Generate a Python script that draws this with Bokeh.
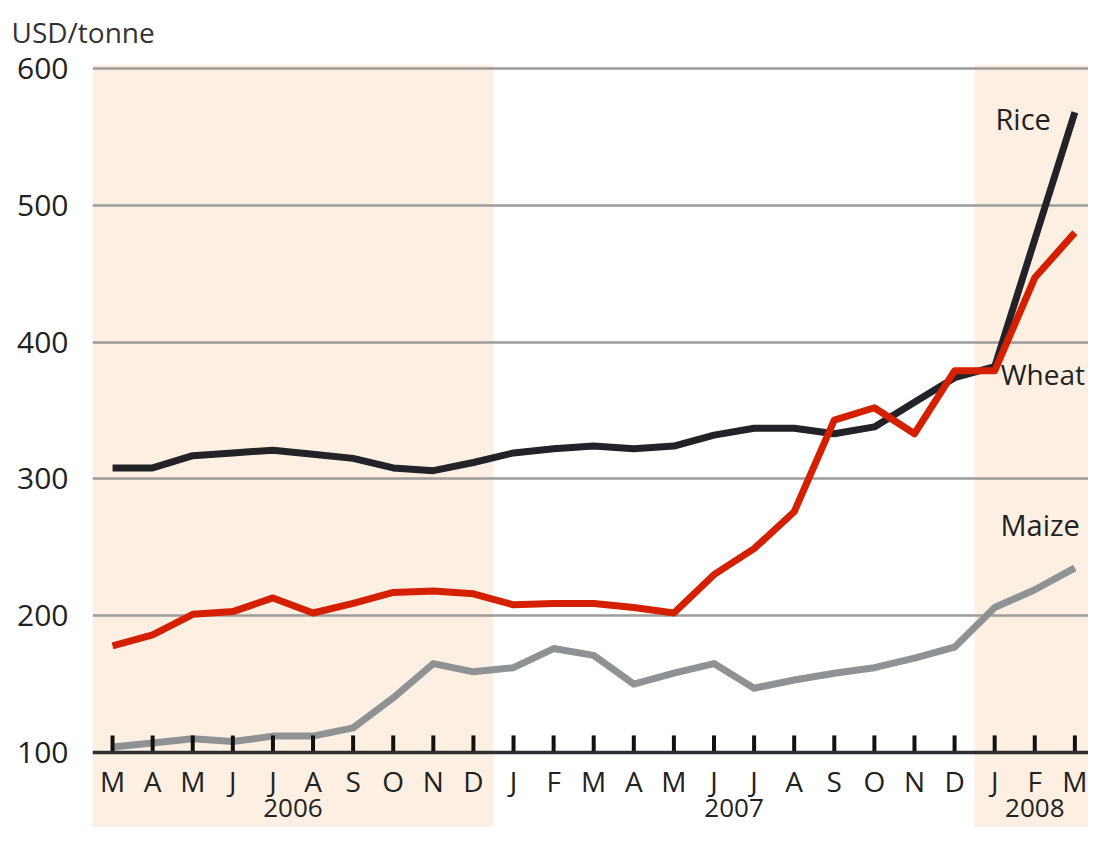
from bokeh.plotting import figure
from bokeh.models import FixedTicker, BoxAnnotation, Span
from bokeh.core.properties import value
from bokeh.embed import file_html
from bokeh.resources import INLINE

# ---- data ----
months = ["M", "A", "M", "J", "J", "A", "S", "O", "N", "D",
          "J", "F", "M", "A", "M", "J", "J", "A", "S", "O", "N", "D",
          "J", "F", "M"]
years = [2006] * 10 + [2007] * 12 + [2008] * 3
rice = [308, 308, 317, 319, 321, 318, 315, 308, 306, 312,
        319, 322, 324, 322, 324, 332, 337, 337, 333, 338, 356, 374,
        382, 475, 568]
wheat = [178, 186, 201, 203, 213, 202, 209, 217, 218, 216,
         208, 209, 209, 206, 202, 230, 249, 276, 343, 352, 333, 379,
         379, 447, 480]
maize = [104, 107, 110, 108, 112, 112, 118, 140, 165, 159,
         162, 176, 171, 150, 158, 165, 147, 153, 158, 162, 169, 177,
         206, 219, 235]
y_ticks = [100, 200, 300, 400, 500, 600]
shaded_years = [2006, 2008]
unit_label = "USD/tonne"

# ---- styles ----
FONT = "Open Sans"
SHADE = "#FDF0E3"
RICE_C = "#232228"
WHEAT_C = "#D52000"
MAIZE_C = "#8F9295"
GRID_C = "#9C9C9C"
TXT_C = "#222222"
FS = "30px"

idx = list(range(len(months)))
base = y_ticks[0]

W, H = 1088, 827
p = figure(width=W, height=H,
           x_range=(-0.5, 24.34), y_range=(45.2, 602.9),
           output_backend="svg", toolbar_location=None,
           x_axis_location=None,
           min_border_left=92, min_border_right=0,
           min_border_top=64, min_border_bottom=0,
           outline_line_color=None)

# unit label as title, top-left
p.title.text = unit_label
p.title.align = "left"
p.title.vertical_align = "top"
p.title.offset = -81
p.title.standoff = 23
p.title.text_font = FONT
p.title.text_font_size = "28px"
p.title.text_font_style = "normal"
p.title.text_color = "#333333"

# shaded year bands
for yr in shaded_years:
    ii = [i for i, y in enumerate(years) if y == yr]
    right = max(ii) + 0.5 if max(ii) < len(months) - 1 else None
    p.add_layout(BoxAnnotation(left=min(ii) - 0.5, right=right,
                               fill_color=SHADE, fill_alpha=1.0,
                               line_color=None, level="image"))

# y axis
p.yaxis.ticker = FixedTicker(ticks=y_ticks)
p.yaxis.axis_line_color = None
p.yaxis.major_tick_line_color = None
p.yaxis.minor_tick_line_color = None
p.yaxis.major_label_text_font = FONT
p.yaxis.major_label_text_font_size = FS
p.yaxis.major_label_text_color = TXT_C
p.yaxis.major_label_standoff = 18

p.xgrid.visible = False
p.ygrid.ticker = FixedTicker(ticks=y_ticks[1:])
p.ygrid.grid_line_color = GRID_C
p.ygrid.grid_line_width = 2.5

# series lines
p.line(idx, maize, line_color=MAIZE_C, line_width=7, line_join="round")
p.line(idx, rice, line_color=RICE_C, line_width=7, line_join="round")
p.line(idx, wheat, line_color=WHEAT_C, line_width=7, line_join="round")

# bottom axis line and ticks
p.add_layout(Span(location=base, dimension="width", line_color="#2E2E33",
                  line_width=3.5, level="glyph"))
tick_len = 12.5
p.segment(x0=idx, y0=[base] * len(idx), x1=idx,
          y1=[base + tick_len] * len(idx),
          line_color="#111111", line_width=4)

# month labels
p.text(x=idx, y=[base] * len(idx), text=months,
       text_font=value(FONT), text_font_size="28px", text_color=TXT_C,
       text_align="center", text_baseline="alphabetic", y_offset=28)

# year labels
yr_names = sorted(set(years))
yr_x = [sum(i for i, y in enumerate(years) if y == yr) /
        sum(1 for y in years if y == yr) for yr in yr_names]
p.text(x=yr_x, y=[base] * len(yr_x), text=[str(y) for y in yr_names],
       text_font=value(FONT), text_font_size="26px", text_color=TXT_C,
       text_align="center", text_baseline="alphabetic", y_offset=55)

# series labels
last = len(idx) - 1
p.text(x=[last], y=[rice[last]], text=["Rice"],
       text_font=value(FONT), text_font_size="29px", text_color=TXT_C,
       text_align="right", text_baseline="middle", x_offset=-24, y_offset=6)
p.text(x=[last - 2], y=[wheat[last - 2]], text=["Wheat"],
       text_font=value(FONT), text_font_size="28px", text_color=TXT_C,
       text_align="left", text_baseline="middle", x_offset=6, y_offset=3)
p.text(x=[last], y=[maize[last]], text=["Maize"],
       text_font=value(FONT), text_font_size="29px", text_color=TXT_C,
       text_align="right", text_baseline="middle", x_offset=5, y_offset=-43)

open("out.html", "w").write(file_html(p, INLINE))
